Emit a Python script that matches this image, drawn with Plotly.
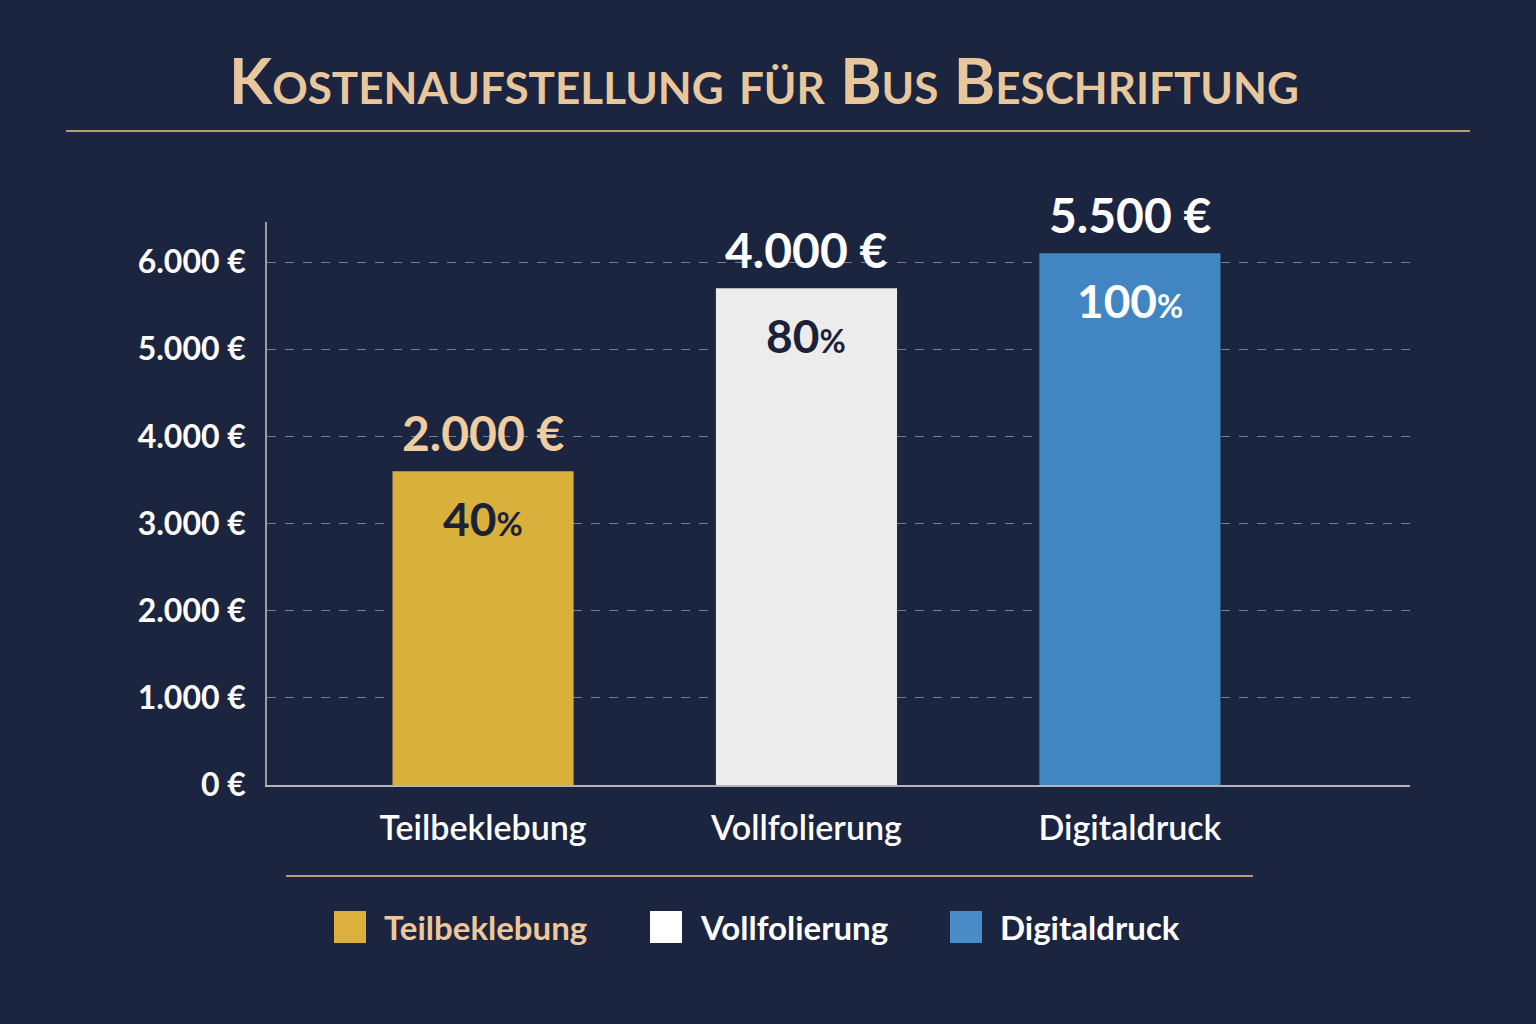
import plotly.graph_objects as go

# Daten
kategorien = ["Teilbeklebung", "Vollfolierung", "Digitaldruck"]
balken_hoehe = [3600, 5700, 6100]
betrag_text = ["2.000 €", "4.000 €", "5.500 €"]
prozent = [40, 80, 100]
y_ticks = [0, 1000, 2000, 3000, 4000, 5000, 6000]
y_ticktext = ["0 €", "1.000 €", "2.000 €", "3.000 €", "4.000 €", "5.000 €", "6.000 €"]

farben = ["#d9b03c", "#ececec", "#4186c3"]
betrag_farben = ["#f0cda0", "#ffffff", "#ffffff"]
prozent_farben = ["#1b2238", "#1b2238", "#ffffff"]
legende_farben = ["#dcb03c", "#ffffff", "#4a8cc8"]
legende_text_farben = ["#efc79c", "#ffffff", "#ffffff"]

BG = "#1b2540"
GOLD = "#e9c79c"
FONT = "Lato"

W, H = 1536, 1024
L, R, T, B = 267, 126, 222, 239
PW, PH = W - L - R, H - T - B


def px_x(x):
    return (x - L) / PW


def px_y(y):
    return (H - B - y) / PH


fig = go.Figure()
fig.add_trace(go.Bar(
    x=kategorien, y=balken_hoehe, width=0.56,
    marker=dict(color=farben, line=dict(width=0)),
    showlegend=False, hoverinfo="skip",
))

# Beträge über den Balken und Prozente in den Balken
for k, h, t, c in zip(kategorien, balken_hoehe, betrag_text, betrag_farben):
    fig.add_annotation(x=k, y=h, text="<b>%s</b>" % t, showarrow=False,
                       yanchor="bottom", yshift=8,
                       font=dict(family=FONT, size=48, color=c))
for k, h, p, c in zip(kategorien, balken_hoehe, prozent, prozent_farben):
    fig.add_annotation(x=k, y=h, text="<b>%d<span style='font-size:32px'>%%</span></b>" % p,
                       showarrow=False, yanchor="middle", yshift=-47,
                       font=dict(family=FONT, size=46, color=c))

# Titel und Zierlinien
fig.add_annotation(xref="paper", yref="paper", x=px_x(764), y=px_y(80),
                   text="<b>Kostenaufstellung für Bus Beschriftung</b>", showarrow=False,
                   xanchor="center", yanchor="middle",
                   font=dict(family=FONT, size=63, color=GOLD, variant="small-caps"))
fig.add_shape(type="line", xref="paper", yref="paper",
              x0=px_x(66), x1=px_x(1470), y0=px_y(131), y1=px_y(131),
              line=dict(color="#b89a78", width=2))
fig.add_shape(type="line", xref="paper", yref="paper",
              x0=px_x(286), x1=px_x(1253), y0=px_y(876), y1=px_y(876),
              line=dict(color="#b89a78", width=2))

# Legende
leg_x = [334, 650, 950]
for lx, name, c, tc in zip(leg_x, kategorien, legende_farben, legende_text_farben):
    fig.add_shape(type="rect", xref="paper", yref="paper",
                  x0=px_x(lx), x1=px_x(lx + 32), y0=px_y(911), y1=px_y(943),
                  fillcolor=c, line=dict(width=0))
    fig.add_annotation(xref="paper", yref="paper", x=px_x(lx + 48), y=px_y(927),
                       text="<b>%s</b>" % name, showarrow=False,
                       xanchor="left", yanchor="middle",
                       font=dict(family=FONT, size=33, color=tc))

fig.update_layout(
    width=W, height=H,
    margin=dict(l=L, r=R, t=T, b=B),
    paper_bgcolor=BG, plot_bgcolor=BG,
    font=dict(family=FONT, color="white"),
)
fig.update_xaxes(
    range=[-0.668, 2.866], showline=True, linecolor="#b4b4b8", linewidth=2,
    showgrid=False, ticks="", ticklabelstandoff=12,
    tickfont=dict(family=FONT, size=34, color="white", weight=600),
)
fig.update_yaxes(
    range=[0, 6460], tickvals=y_ticks, ticktext=y_ticktext,
    showline=True, linecolor="#9a9ca4", linewidth=1.5,
    showgrid=True, gridcolor="rgba(255,255,255,0.4)", griddash="dash", gridwidth=1,
    zeroline=False, ticks="", ticklabelstandoff=13,
    tickfont=dict(family=FONT, size=32, color="white", weight=700),
)

fig.write_html("out.html", config={"displayModeBar": False},
               post_script="document.body.style.margin='0';")
